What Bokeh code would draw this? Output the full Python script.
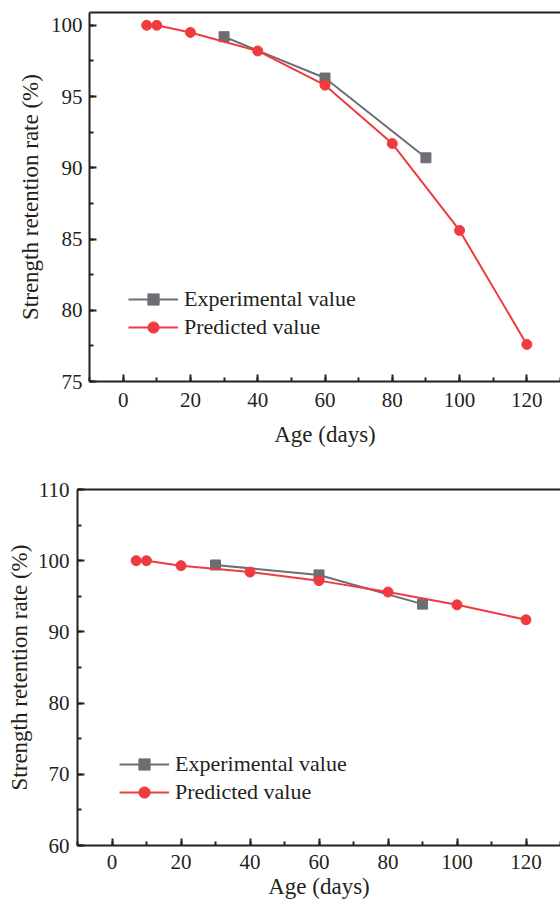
from bokeh.plotting import figure
from bokeh.models import (Range1d, SingleIntervalTicker, FixedTicker, LinearAxis, Legend, LegendItem)
from bokeh.layouts import column, row
from bokeh.embed import file_html
from bokeh.resources import INLINE

# ---- data ----
age_pred = [7, 10, 20, 40, 60, 80, 100, 120]
age_exp = [30, 60, 90]

top_pred = [100.0, 100.0, 99.5, 98.2, 95.8, 91.7, 85.6, 77.6]
top_exp = [99.2, 96.3, 90.7]

bot_pred = [100.0, 100.0, 99.3, 98.4, 97.2, 95.6, 93.8, 91.7]
bot_exp = [99.4, 98.0, 93.9]

legend_labels = ["Experimental value", "Predicted value"]
x_label = "Age (days)"
y_label = "Strength retention rate (%)"

FONT = "Liberation Serif"
GRAY = "#6d6d75"
RED = "#ef3b3f"
TXT = "#231f20"


def make_fig(height, border_left, border_top, border_bottom, yr, ytick, pred, exp,
             leg_loc, tick_standoff_x, tick_standoff_y, lab_standoff_x, lab_standoff_y):
    p = figure(width=560, height=height, output_backend="svg", toolbar_location=None,
               x_range=Range1d(-10, 130), y_range=Range1d(*yr),
               min_border_left=border_left, min_border_right=0,
               min_border_top=border_top, min_border_bottom=border_bottom,
               x_axis_label=x_label, y_axis_label=y_label)
    p.outline_line_color = None
    p.grid.visible = False
    p.xaxis.ticker = SingleIntervalTicker(interval=20, num_minor_ticks=2)
    p.yaxis.ticker = SingleIntervalTicker(interval=ytick, num_minor_ticks=2)
    for ax in (p.xaxis[0], p.yaxis[0]):
        ax.axis_line_width = 2
        ax.axis_line_color = "#222222"
        ax.major_tick_in = 7
        ax.major_tick_out = 0
        ax.minor_tick_in = 4
        ax.minor_tick_out = 0
        ax.major_tick_line_width = 2
        ax.minor_tick_line_width = 2
        ax.major_tick_line_color = "#222222"
        ax.minor_tick_line_color = "#222222"
        ax.major_label_text_font = FONT
        ax.major_label_text_font_size = "21px"
        ax.major_label_text_color = TXT
        ax.axis_label_text_font = FONT
        ax.axis_label_text_font_size = "23px"
        ax.axis_label_text_font_style = "normal"
        ax.axis_label_text_color = TXT
    p.xaxis.major_label_standoff = tick_standoff_x
    p.yaxis.major_label_standoff = tick_standoff_y
    p.xaxis.axis_label_standoff = lab_standoff_x
    p.yaxis.axis_label_standoff = lab_standoff_y

    top_ax = LinearAxis(ticker=FixedTicker(ticks=[]), axis_line_width=2,
                        axis_line_color="#222222",
                        major_tick_line_color=None, minor_tick_line_color=None,
                        major_label_standoff=0)
    p.add_layout(top_ax, "above")

    l1 = p.line(age_exp, exp, line_color=GRAY, line_width=2)
    s1 = p.scatter(age_exp, exp, marker="square", size=10, fill_color=GRAY, line_color=GRAY)
    l2 = p.line(age_pred, pred, line_color=RED, line_width=2)
    s2 = p.scatter(age_pred, pred, marker="circle", size=10, fill_color=RED, line_color=RED)

    leg = Legend(items=[LegendItem(label=legend_labels[0], renderers=[l1, s1]),
                        LegendItem(label=legend_labels[1], renderers=[l2, s2])],
                 location=leg_loc, glyph_width=50, glyph_height=28, label_height=28,
                 label_standoff=6, spacing=0, padding=0, margin=0,
                 border_line_color=None, background_fill_alpha=0,
                 label_text_font=FONT, label_text_font_size="22px",
                 label_text_color=TXT)
    p.add_layout(leg)
    return p


p1 = make_fig(460, 89, 12, 79, (75, 100.9), 5, top_pred, top_exp, (39, 40),
              11, 7, 12, 5)
p2 = make_fig(442, 77, 29, 57, (60, 110), 10, bot_pred, bot_exp, (42, 39),
              9, 8, 2, 3)

layout = column(row(p1), row(p2), spacing=0)
open("out.html", "w").write(file_html(layout, INLINE))
